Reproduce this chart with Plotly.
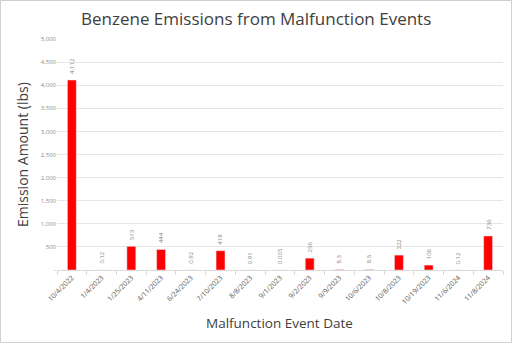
import plotly.graph_objects as go

dates = ["10/4/2022", "1/4/2023", "1/25/2023", "4/11/2023", "6/24/2023", "7/10/2023",
         "8/8/2023", "9/1/2023", "9/2/2023", "9/9/2023", "10/6/2023", "10/8/2023",
         "10/19/2023", "11/6/2024", "11/8/2024"]
values = [4112, 0.12, 513, 444, 0.92, 418, 0.91, 0.003, 256, 8.3, 8.5, 322, 106, 0.12, 736]
value_labels = ["4,112", "0.12", "513", "444", "0.92", "418", "0.91", "0.003", "256",
                "8.3", "8.5", "322", "106", "0.12", "736"]
y_ticks = [0, 500, 1000, 1500, 2000, 2500, 3000, 3500, 4000, 4500, 5000]
y_tick_labels = ["-", "500", "1,000", "1,500", "2,000", "2,500", "3,000", "3,500",
                 "4,000", "4,500", "5,000"]

W, H = 512, 343
L, R, T, B = 57, 9, 39, 73
pw, ph = W - L - R, H - T - B

fig = go.Figure(go.Bar(
    x=dates, y=values, marker_color="#ff0000", cliponaxis=False,
))

def px_x(x):
    return (x - L) / pw

def px_y(y):
    return (H - B - y) / ph

annotations = [
    dict(text=lab, x=d, y=v, xref="x", yref="y", showarrow=False, textangle=-90,
         xanchor="center", yanchor="bottom", yshift=4,
         font=dict(size=6, color="#7f7f7f"))
    for d, v, lab in zip(dates, values, value_labels)
]
annotations += [
    dict(text="Benzene Emissions from Malfunction Events", x=px_x(256), y=px_y(18),
         xref="paper", yref="paper", showarrow=False, xanchor="center", yanchor="middle",
         font=dict(size=17, color="#404040")),
    dict(text="Emission Amount (lbs)", x=px_x(22), y=px_y(155), textangle=-90,
         xref="paper", yref="paper", showarrow=False, xanchor="center", yanchor="middle",
         font=dict(size=14, color="#404040")),
    dict(text="Malfunction Event Date", x=px_x(279), y=px_y(323),
         xref="paper", yref="paper", showarrow=False, xanchor="center", yanchor="middle",
         font=dict(size=13.5, color="#404040")),
]

fig.update_layout(
    width=W, height=H, margin=dict(l=L, r=R, t=T, b=B),
    paper_bgcolor="white", plot_bgcolor="white", bargap=0.7, showlegend=False,
    font=dict(family="Open Sans, sans-serif", color="#595959"),
    xaxis=dict(type="category", tickangle=-45, tickfont=dict(size=7, color="#595959"),
               showline=True, linecolor="#d9d9d9", linewidth=1,
               ticks="outside", tickson="boundaries", ticklen=4, tickcolor="#d9d9d9",
               showgrid=False),
    yaxis=dict(range=[0, 5000], tickvals=y_ticks, ticktext=y_tick_labels,
               tickfont=dict(size=6, color="#8c8c8c"), gridcolor="#e6e6e6",
               gridwidth=1, zeroline=False, showline=False, ticklen=0),
    annotations=annotations,
    shapes=[dict(type="rect", xref="paper", yref="paper",
                 x0=px_x(0.5), x1=px_x(W - 0.5), y0=px_y(H - 0.5), y1=px_y(0.5),
                 line=dict(color="#d0d0d0", width=1), layer="below")],
)

fig.write_html("out.html")
